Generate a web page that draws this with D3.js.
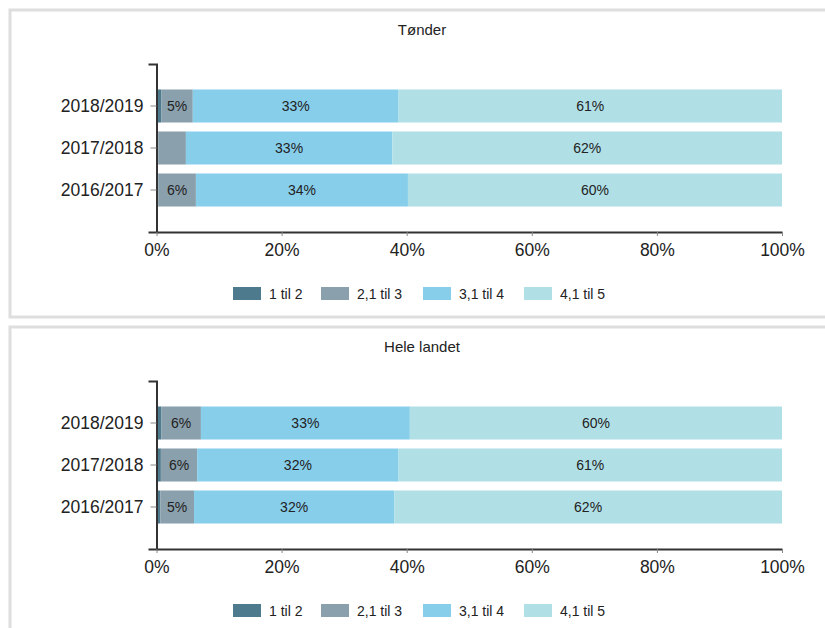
<!DOCTYPE html>
<html>
<head>
<meta charset="utf-8">
<script src="https://cdn.jsdelivr.net/npm/d3@7"></script>
<style>
  body { margin: 0; background: #fff; }
  svg { display: block; font-family: "Liberation Sans", Arial, sans-serif; }
</style>
</head>
<body>
<div id="chart"></div>
<script>
// Data
const years = ["2018/2019", "2017/2018", "2016/2017"];
const groups = ["1 til 2", "2,1 til 3", "3,1 til 4", "4,1 til 5"];
const colors = ["#4e7a8e", "#8aa0ac", "#87ceeb", "#b0e0e6"];
const xTicks = [0, 20, 40, 60, 80, 100];

// Tønder, one array per year, order of groups
const tonder = [
  [0.8, 5.0, 32.9, 61.3],
  [0.3, 4.4, 33.0, 62.3],
  [0.3, 6.0, 33.9, 59.8]
];
// Hele landet
const heleLandet = [
  [0.8, 6.3, 33.4, 59.5],
  [0.7, 5.8, 32.2, 61.3],
  [0.6, 5.4, 32.0, 62.0]
];

const width = 825, height = 628;
const svg = d3.select("#chart").append("svg")
  .attr("width", width)
  .attr("height", height);

function drawPanel(title, values, top) {
  const g = svg.append("g").attr("transform", `translate(0,${top})`);

  // frame
  g.append("rect")
    .attr("x", 10).attr("y", 10)
    .attr("width", 840).attr("height", 307)
    .attr("fill", "#fff")
    .attr("stroke", "#dedede")
    .attr("stroke-width", 3);

  g.append("text")
    .attr("x", 422).attr("y", 35)
    .attr("text-anchor", "middle")
    .attr("font-size", "15px")
    .attr("fill", "#222")
    .text(title);

  const x = d3.scaleLinear().domain([0, 100]).range([156.5, 782]);
  const y = d3.scaleBand().domain(years).range([64, 232])
    .paddingInner(0.214).paddingOuter(0.607);

  // stacked rows
  const rows = values.map((v, i) => {
    let acc = 0;
    return v.map((val, k) => {
      const seg = { year: years[i], k: k, x0: acc, x1: acc + val, val: val };
      acc += val;
      return seg;
    });
  });

  const row = g.selectAll(".row").data(rows).enter().append("g");

  row.selectAll("rect")
    .data(d => d)
    .enter().append("rect")
    .attr("x", d => x(d.x0))
    .attr("y", d => y(d.year))
    .attr("width", d => x(d.x1) - x(d.x0))
    .attr("height", y.bandwidth())
    .attr("fill", d => colors[d.k]);

  row.selectAll("text")
    .data(d => d.filter(s => Math.round(s.val) >= 5))
    .enter().append("text")
    .attr("x", d => (x(d.x0) + x(d.x1)) / 2)
    .attr("y", d => y(d.year) + y.bandwidth() / 2 + 5)
    .attr("text-anchor", "middle")
    .attr("font-size", "14px")
    .attr("fill", "#222")
    .text(d => Math.round(d.val) + "%");

  // axes
  const yAxis = g.append("g")
    .attr("transform", `translate(${x(0)},0)`)
    .call(d3.axisLeft(y).tickSize(6).tickSizeOuter(8).tickPadding(7));
  yAxis.select(".domain").attr("stroke", "#333").attr("stroke-width", 2);
  yAxis.selectAll(".tick line").attr("stroke", "#888");
  yAxis.selectAll("text").attr("font-size", "17.5px").attr("fill", "#222")
    .style("font-family", "Liberation Sans, Arial, sans-serif");

  const xAxis = g.append("g")
    .attr("transform", `translate(0,232)`)
    .call(d3.axisBottom(x).tickValues(xTicks).tickFormat(d => d + "%")
      .tickSize(4).tickSizeOuter(0).tickPadding(8));
  xAxis.select(".domain").attr("stroke", "#333").attr("stroke-width", 2);
  xAxis.selectAll(".tick line").attr("stroke", "#888");
  xAxis.selectAll("text").attr("font-size", "17.5px").attr("fill", "#222")
    .style("font-family", "Liberation Sans, Arial, sans-serif");

  // legend
  const legendX = [233, 321, 423, 524];
  const lg = g.selectAll(".legend").data(groups).enter().append("g")
    .attr("transform", (d, i) => `translate(${legendX[i]},287)`);
  lg.append("rect")
    .attr("width", 28).attr("height", 13)
    .attr("fill", (d, i) => colors[i]);
  lg.append("text")
    .attr("x", 36).attr("y", 11.5)
    .attr("font-size", "14px")
    .attr("fill", "#222")
    .text(d => d);
}

drawPanel("Tønder", tonder, 0);
drawPanel("Hele landet", heleLandet, 317);
</script>
</body>
</html>
